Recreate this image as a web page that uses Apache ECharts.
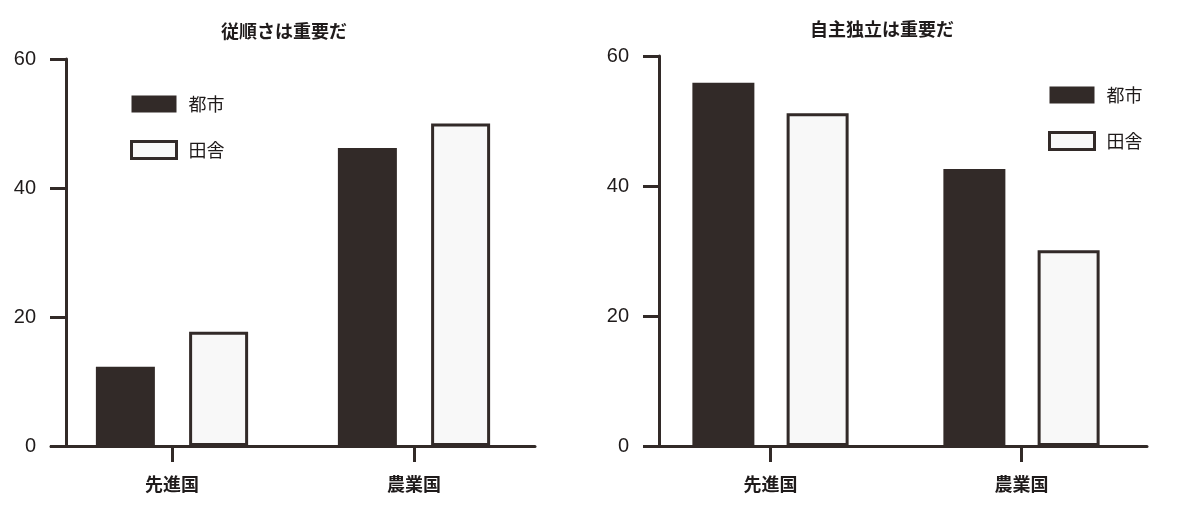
<!DOCTYPE html>
<html>
<head>
<meta charset="utf-8">
<script src="https://cdn.jsdelivr.net/npm/echarts@6/dist/echarts.min.js"></script>
<style>
html, body { margin: 0; padding: 0; background: #fff; }
#main { width: 1200px; height: 511px; }
</style>
</head>
<body>
<div id="main"></div>
<script>
// カテゴリと系列
var categories = ['先進国', '農業国'];
var seriesNames = ['都市', '田舎'];
var titles = ['従順さは重要だ', '自主独立は重要だ'];

// 左：従順さは重要だ (%)
var obedienceCity = [12.3, 46.2];
var obedienceRural = [17.7, 50.0];

// 右：自主独立は重要だ (%)
var autonomyCity = [55.9, 42.6];
var autonomyRural = [51.2, 30.1];

// 縦軸の目盛
var yTicks = [0, 20, 40, 60];

var dark = '#322a28';
var light = '#f8f8f8';
var textColor = '#1f1b1b';
var numFont = "'Liberation Sans', Arial, sans-serif";
var jpFont = "'Noto Sans CJK JP', sans-serif";

var myChart = echarts.init(document.getElementById('main'));

function makeXAxis(idx) {
    return {
        type: 'category',
        gridIndex: idx,
        data: categories,
        axisLine: { show: true, lineStyle: { color: dark, width: 3 } },
        axisTick: { show: true, alignWithLabel: true, length: 16, lineStyle: { color: dark, width: 3 } },
        axisLabel: { margin: 29, fontSize: 18, fontWeight: 'bold', color: textColor, fontFamily: jpFont },
        splitLine: { show: false }
    };
}

function makeYAxis(idx, offset) {
    return {
        type: 'value',
        gridIndex: idx,
        min: yTicks[0],
        max: yTicks[yTicks.length - 1],
        interval: yTicks[1] - yTicks[0],
        offset: offset,
        axisLine: { show: true, lineStyle: { color: dark, width: 3 } },
        axisTick: { show: true, length: 16, lineStyle: { color: dark, width: 3 } },
        axisLabel: { margin: 30, fontSize: 20, color: textColor, fontFamily: numFont },
        splitLine: { show: false }
    };
}

function makeLegend(left, top) {
    return {
        orient: 'vertical',
        left: left,
        top: top,
        padding: 0,
        icon: 'rect',
        itemWidth: 45,
        itemHeight: 17,
        itemGap: 27,
        textStyle: { fontSize: 18, color: textColor, fontFamily: jpFont, padding: [0, 0, 0, 7] },
        data: [
            { name: seriesNames[0], itemStyle: { color: dark, borderWidth: 0 } },
            { name: seriesNames[1], itemStyle: { color: light, borderColor: dark, borderWidth: 3 } }
        ]
    };
}

function makeBars(idx, cityData, ruralData, width, gap) {
    return [{
        name: seriesNames[0],
        type: 'bar',
        xAxisIndex: idx,
        yAxisIndex: idx,
        data: cityData,
        barWidth: width,
        barGap: gap,
        itemStyle: { color: dark }
    }, {
        name: seriesNames[1],
        type: 'bar',
        xAxisIndex: idx,
        yAxisIndex: idx,
        data: ruralData,
        barWidth: width,
        barGap: gap,
        itemStyle: { color: light, borderColor: dark, borderWidth: 3 }
    }];
}

var option = {
    animation: false,
    backgroundColor: '#fff',
    title: [{
        text: titles[0],
        left: 221,
        top: 22,
        padding: 0,
        textStyle: { fontSize: 18, fontWeight: 'bold', color: textColor, fontFamily: jpFont }
    }, {
        text: titles[1],
        left: 810,
        top: 20,
        padding: 0,
        textStyle: { fontSize: 18, fontWeight: 'bold', color: textColor, fontFamily: jpFont }
    }],
    legend: [makeLegend(130, 95), makeLegend(1048, 86)],
    grid: [
        { left: 51, top: 59, width: 484, height: 387, outerBoundsMode: 'none' },
        { left: 645, top: 56, width: 502, height: 390, outerBoundsMode: 'none' }
    ],
    xAxis: [makeXAxis(0), makeXAxis(1)],
    yAxis: [makeYAxis(0, -15), makeYAxis(1, -14)],
    series: makeBars(0, obedienceCity, obedienceRural, 59, '58%')
        .concat(makeBars(1, autonomyCity, autonomyRural, 62, '52%'))
};

myChart.setOption(option);
</script>
</body>
</html>
